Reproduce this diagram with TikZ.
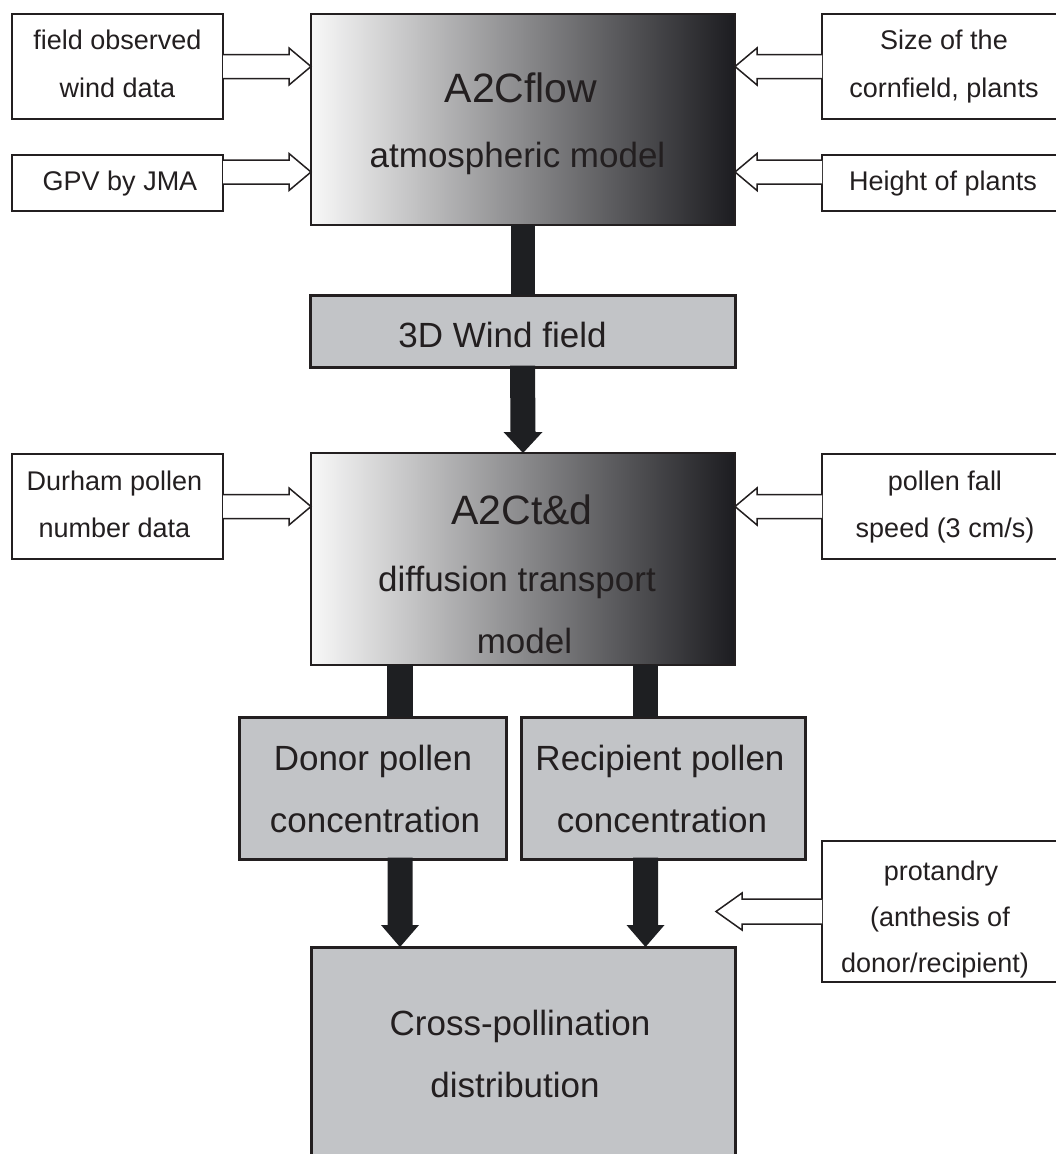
\documentclass[tikz,border=0pt]{standalone}
\usepackage{fontspec}
\setmainfont{Liberation Sans}
\usetikzlibrary{calc}
\definecolor{ink}{HTML}{231F20}
\definecolor{boxgray}{HTML}{C2C4C7}
\definecolor{barc}{HTML}{1E1F22}
\definecolor{gmid}{HTML}{97979C}
\definecolor{gdark}{HTML}{1C1C20}
\definecolor{glight}{HTML}{F8F8F8}
\begin{document}
\begin{tikzpicture}[x=1pt,y=-1pt,
  box/.style={inner sep=0pt,outer sep=0pt,anchor=north west},
  sidebox/.style={box,draw=ink,line width=1.8pt,fill=white},
  graybox/.style={box,draw=ink,line width=3pt,fill=boxgray},
  gradbox/.style={box,draw=ink,line width=1.5pt,left color=glight,middle color=gmid,right color=gdark},
  txts/.style={anchor=base,inner sep=0pt,text=ink,font=\fontsize{27pt}{30pt}\selectfont},
  txtm/.style={anchor=base,inner sep=0pt,text=ink,font=\fontsize{35pt}{40pt}\selectfont},
  txtl/.style={anchor=base,inner sep=0pt,text=ink,font=\fontsize{41pt}{46pt}\selectfont},
  bar/.style={fill=barc},
  hol/.style={draw=ink,fill=white,line width=1.5pt,line join=miter}
]
\useasboundingbox (0,0) rectangle (1055,1154);

% ---- boxes ----
\node[sidebox,minimum width=211pt,minimum height=105pt] (f1) at (12,14) {};
\node[sidebox,minimum width=211pt,minimum height=56pt] (gpv) at (12,155) {};
\node[sidebox,minimum width=246pt,minimum height=105pt] (s1) at (822,14) {};
\node[sidebox,minimum width=246pt,minimum height=56pt] (h1) at (822,155) {};
\node[gradbox,minimum width=424pt,minimum height=211pt] (a2c) at (311,14) {};
\node[graybox,minimum width=425pt,minimum height=72pt] (w3) at (310,295) {};
\node[gradbox,minimum width=424pt,minimum height=212pt] (t2) at (311,453) {};
\node[sidebox,minimum width=211pt,minimum height=105pt] (dur) at (12,454) {};
\node[sidebox,minimum width=246pt,minimum height=105pt] (pf) at (822,454) {};
\node[graybox,minimum width=267pt,minimum height=142pt] (don) at (239,717) {};
\node[graybox,minimum width=284pt,minimum height=142pt] (rec) at (521,717) {};
\node[graybox,minimum width=424pt,minimum height=222pt] (cr) at (311,947) {};
\node[sidebox,minimum width=246pt,minimum height=141pt] (pr) at (822,841) {};

% ---- texts ----
\node[txts] (f1a) at (117.5,49) {field observed};
\node[txts] (f1b) at (117.5,97) {wind data};
\node[txts] (gpva) at (120,190) {GPV by JMA};
\node[txts] (s1a) at (944,49) {Size of the};
\node[txts] (s1b) at (944,97) {cornfield, plants};
\node[txts] (h1a) at (943,190) {Height of plants};
\node[txtl] (a2ca) at (521,102) {A2Cflow};
\node[txtm] (a2cb) at (517.5,167) {atmospheric model};
\node[txtm] (w3a) at (502.5,347) {3D Wind field};
\node[txtl] (t2a) at (522,524) {A2Ct\&d};
\node[txtm] (t2b) at (517,591) {diffusion transport};
\node[txtm] (t2c) at (524.5,653) {model};
\node[txts] (dura) at (114.5,490) {Durham pollen};
\node[txts] (durb) at (114.5,537) {number data};
\node[txts] (pfa) at (945,490) {pollen fall};
\node[txts] (pfb) at (945,537) {speed (3 cm/s)};
\node[txtm] (dona) at (373,770) {Donor pollen};
\node[txtm] (donb) at (375,832) {concentration};
\node[txtm] (reca) at (660,770) {Recipient pollen};
\node[txtm] (recb) at (662,832) {concentration};
\node[txtm] (cra) at (520,1035) {Cross-pollination};
\node[txtm] (crb) at (515,1097) {distribution};
\node[txts] (pra) at (941,880) {protandry};
\node[txts] (prb) at (940,926) {(anthesis of};
\node[txts] (prc) at (935,972) {donor/recipient)};

% ---- thick connectors ----
\coordinate (xl) at (400,0);
\coordinate (xr) at (645.5,0);
\fill[bar] ($(a2c.south)+(-12.5,0)$) rectangle ($(w3.north)+(12.5,0)$);
\fill[bar] ($(w3.south)+(-12.5,-1.5)$) -- ($(t2.north)+(-12.5,-21)$) -- ($(t2.north)+(-19.5,-21)$)
  -- (t2.north) -- ($(t2.north)+(19.5,-21)$) -- ($(t2.north)+(12.5,-21)$) -- ($(w3.south)+(12.5,-1.5)$) -- cycle;
\fill[bar] ($(t2.south -| xl)+(-13,0)$) rectangle ($(don.north -| xl)+(13,0)$);
\fill[bar] ($(t2.south -| xr)+(-12.5,0)$) rectangle ($(rec.north -| xr)+(12.5,0)$);
\fill[bar] ($(don.south -| xl)+(-12.5,-1.5)$) -- ($(cr.north -| xl)+(-12.5,-22)$) -- ($(cr.north -| xl)+(-19,-22)$)
  -- (cr.north -| xl) -- ($(cr.north -| xl)+(19,-22)$) -- ($(cr.north -| xl)+(12.5,-22)$) -- ($(don.south -| xl)+(12.5,-1.5)$) -- cycle;
\fill[bar] ($(rec.south -| xr)+(-12.5,-1.5)$) -- ($(cr.north -| xr)+(-12.5,-22)$) -- ($(cr.north -| xr)+(-19,-22)$)
  -- (cr.north -| xr) -- ($(cr.north -| xr)+(19,-22)$) -- ($(cr.north -| xr)+(12.5,-22)$) -- ($(rec.south -| xr)+(12.5,-1.5)$) -- cycle;

% ---- hollow input arrows ----
% left, pointing right
\draw[hol] ($(f1.east)+(0,-12)$) -- ($(f1.east -| a2c.west)+(-22,-12)$) -- ($(f1.east -| a2c.west)+(-22,-18.5)$)
  -- (f1.east -| a2c.west) -- ($(f1.east -| a2c.west)+(-22,18.5)$) -- ($(f1.east -| a2c.west)+(-22,12)$) -- ($(f1.east)+(0,12)$);
\coordinate (gpvo) at ($(gpv.east)+(0,-11)$);
\draw[hol] ($(gpvo)+(0,-12)$) -- ($(gpvo -| a2c.west)+(-22,-12)$) -- ($(gpvo -| a2c.west)+(-22,-18.5)$)
  -- (gpvo -| a2c.west) -- ($(gpvo -| a2c.west)+(-22,18.5)$) -- ($(gpvo -| a2c.west)+(-22,12)$) -- ($(gpvo)+(0,12)$);
\draw[hol] ($(dur.east)+(0,-12)$) -- ($(dur.east -| t2.west)+(-22,-12)$) -- ($(dur.east -| t2.west)+(-22,-18.5)$)
  -- (dur.east -| t2.west) -- ($(dur.east -| t2.west)+(-22,18.5)$) -- ($(dur.east -| t2.west)+(-22,12)$) -- ($(dur.east)+(0,12)$);
% right, pointing left
\draw[hol] ($(s1.west)+(0,-12)$) -- ($(s1.west -| a2c.east)+(22,-12)$) -- ($(s1.west -| a2c.east)+(22,-18.5)$)
  -- (s1.west -| a2c.east) -- ($(s1.west -| a2c.east)+(22,18.5)$) -- ($(s1.west -| a2c.east)+(22,12)$) -- ($(s1.west)+(0,12)$);
\coordinate (h1o) at ($(h1.west)+(0,-11)$);
\draw[hol] ($(h1o)+(0,-12)$) -- ($(h1o -| a2c.east)+(22,-12)$) -- ($(h1o -| a2c.east)+(22,-18.5)$)
  -- (h1o -| a2c.east) -- ($(h1o -| a2c.east)+(22,18.5)$) -- ($(h1o -| a2c.east)+(22,12)$) -- ($(h1o)+(0,12)$);
\draw[hol] ($(pf.west)+(0,-12)$) -- ($(pf.west -| t2.east)+(22,-12)$) -- ($(pf.west -| t2.east)+(22,-18.5)$)
  -- (pf.west -| t2.east) -- ($(pf.west -| t2.east)+(22,18.5)$) -- ($(pf.west -| t2.east)+(22,12)$) -- ($(pf.west)+(0,12)$);
\coordinate (ptip) at (716,911.5);
\draw[hol] ($(pr.west)+(0,-12.5)$) -- ($(ptip)+(26,-12.5)$) -- ($(ptip)+(26,-18.5)$)
  -- (ptip) -- ($(ptip)+(26,18.5)$) -- ($(ptip)+(26,12.5)$) -- ($(pr.west)+(0,12.5)$);
\end{tikzpicture}
\end{document}
